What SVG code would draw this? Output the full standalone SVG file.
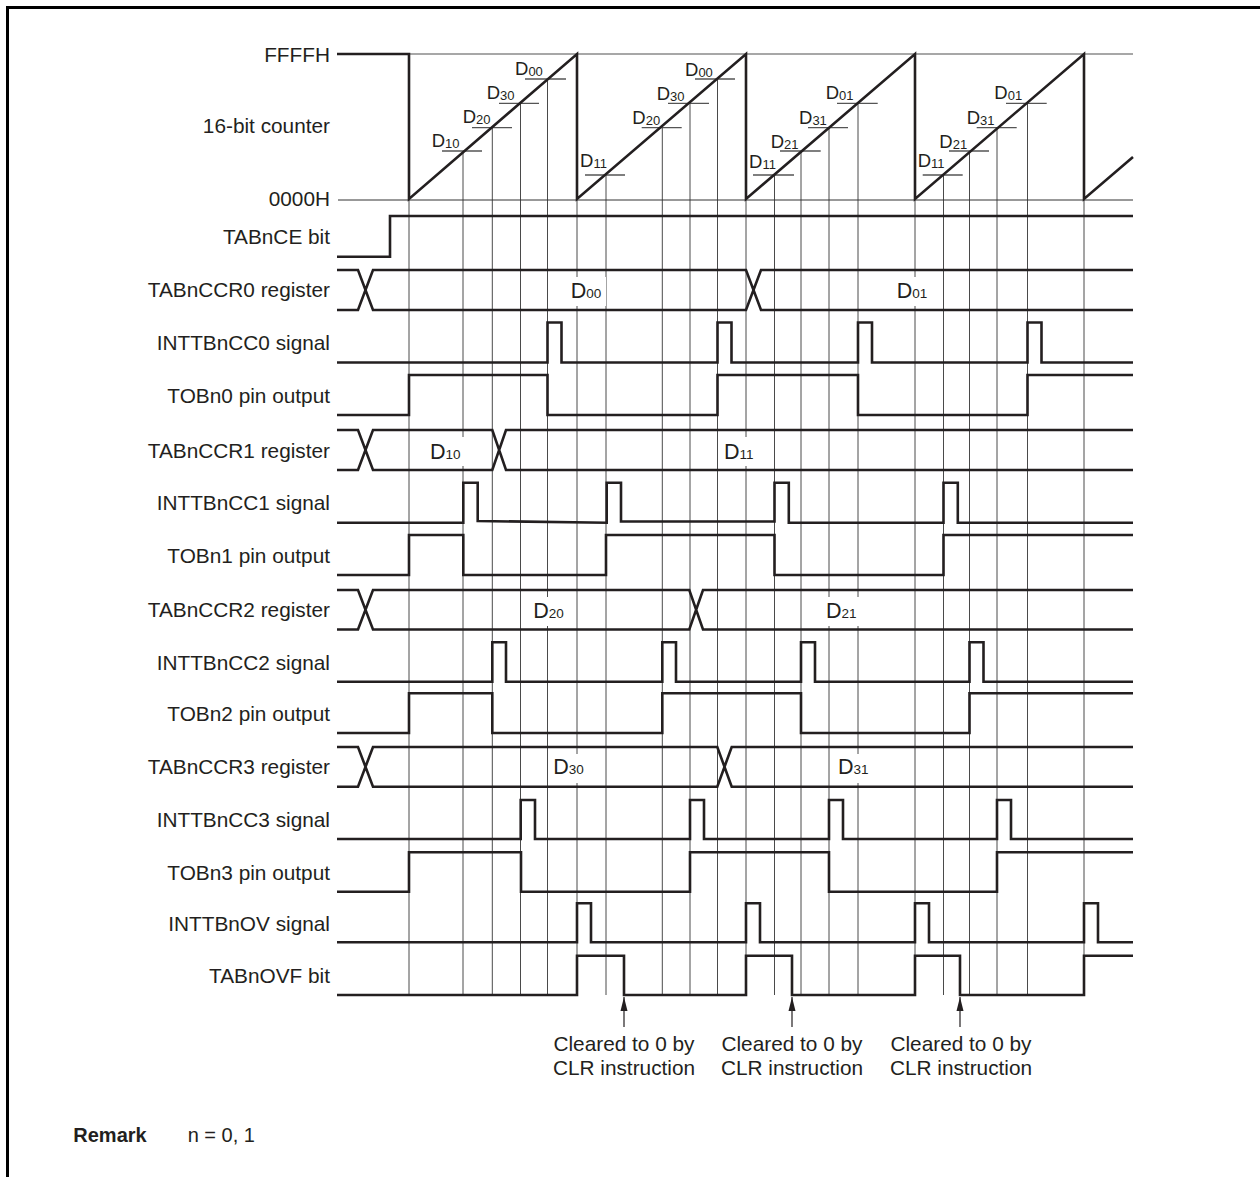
<svg xmlns="http://www.w3.org/2000/svg" width="1260" height="1177" viewBox="0 0 1260 1177">
<style>
text{font-family:"Liberation Sans",Arial,Helvetica,sans-serif;fill:#231f20}
.lbl{font-size:20.8px;text-anchor:end}
.cl{font-size:20.8px;text-anchor:middle}
.dc{font-size:18.5px}
.dcs{font-size:13px}
.dr{font-size:21.5px}
.drs{font-size:13.5px}
.sig{fill:none;stroke:#231f20;stroke-width:2.6;stroke-linejoin:miter}
.vl{stroke:#4a4a4a;stroke-width:1;fill:none}
.tk{stroke:#555;stroke-width:1.3;fill:none}
.bg{fill:#fff}
</style>
<defs>
<marker id="ah" viewBox="0 0 14 8" refX="14" refY="4" markerWidth="14" markerHeight="8" markerUnits="userSpaceOnUse" orient="auto">
<path d="M14,4 L0,0.5 L0,7.5 Z" fill="#231f20"/>
</marker>
</defs>

<g id="frame" fill="none" stroke="#000" stroke-width="3">
<path d="M7.5,1177 V7.5 H1260"/>
</g>

<g id="labels">
<text class="lbl" x="330" y="61.5">FFFFH</text>
<text class="lbl" x="330" y="133.3">16-bit counter</text>
<text class="lbl" x="330" y="206">0000H</text>
<text class="lbl" x="330" y="243.5">TABnCE bit</text>
<text class="lbl" x="330" y="297">TABnCCR0 register</text>
<text class="lbl" x="330" y="350">INTTBnCC0 signal</text>
<text class="lbl" x="330" y="402.5">TOBn0 pin output</text>
<text class="lbl" x="330" y="457.5">TABnCCR1 register</text>
<text class="lbl" x="330" y="510">INTTBnCC1 signal</text>
<text class="lbl" x="330" y="562.5">TOBn1 pin output</text>
<text class="lbl" x="330" y="617">TABnCCR2 register</text>
<text class="lbl" x="330" y="669.5">INTTBnCC2 signal</text>
<text class="lbl" x="330" y="720.5">TOBn2 pin output</text>
<text class="lbl" x="330" y="774">TABnCCR3 register</text>
<text class="lbl" x="330" y="827">INTTBnCC3 signal</text>
<text class="lbl" x="330" y="879.5">TOBn3 pin output</text>
<text class="lbl" x="330" y="930.5">INTTBnOV signal</text>
<text class="lbl" x="330" y="983">TABnOVF bit</text>
</g>

<g id="gridlines">
<path class="vl" d="M409,200V995 M577,200V995 M746,200V995 M915,200V995 M1084,200V995"/>
<path class="vl" d="M463,151V995 M492.3,127.7V995 M520.5,103.3V995 M547.5,79V995"/>
<path class="vl" d="M606,175V995 M662.3,127.7V995 M690,103.3V995 M717.5,79V995"/>
<path class="vl" d="M774.5,175V995 M801,151V995 M829,127.7V995 M858,103.3V995"/>
<path class="vl" d="M943.5,175V995 M969.5,151V995 M997,127.7V995 M1027.5,103.3V995"/>
<path d="M409,54H1133" stroke="#8a8a8a" stroke-width="1.4"/>
<path d="M338,200H1133" stroke="#333" stroke-width="1"/>
</g>

<g id="counter">
<g class="tk">
<path d="M442,151H482 M472,127.7H512 M499,103.3H539 M525,79H566"/>
<path d="M585,175H625 M641.7,127.7H681.7 M668,103.3H709 M695,79H735"/>
<path d="M753,175H794 M780,151H820.7 M808,127.7H848 M837,103.3H877.7"/>
<path d="M922.7,175H962.7 M949,151H989 M976.7,127.7H1016.7 M1006,103.3H1046.7"/>
</g>
<path class="sig" d="M337,54H409V199L577,54V199L746,54V199L915,54V199L1084,54V199L1133,157"/>
<text class="dc" x="431.7" y="146.7">D<tspan class="dcs" dy="1">10</tspan></text>
<text class="dc" x="462.7" y="123.3">D<tspan class="dcs" dy="1">20</tspan></text>
<text class="dc" x="486.7" y="99">D<tspan class="dcs" dy="1">30</tspan></text>
<text class="dc" x="515" y="75">D<tspan class="dcs" dy="1">00</tspan></text>
<text class="dc" x="580" y="167">D<tspan class="dcs" dy="1">11</tspan></text>
<text class="dc" x="632.3" y="124.3">D<tspan class="dcs" dy="1">20</tspan></text>
<text class="dc" x="656.7" y="100">D<tspan class="dcs" dy="1">30</tspan></text>
<text class="dc" x="685" y="76">D<tspan class="dcs" dy="1">00</tspan></text>
<text class="dc" x="749" y="167.7">D<tspan class="dcs" dy="1">11</tspan></text>
<text class="dc" x="770.7" y="148.3">D<tspan class="dcs" dy="1">21</tspan></text>
<text class="dc" x="799" y="124">D<tspan class="dcs" dy="1">31</tspan></text>
<text class="dc" x="825.7" y="99.3">D<tspan class="dcs" dy="1">01</tspan></text>
<text class="dc" x="917.7" y="167.3">D<tspan class="dcs" dy="1">11</tspan></text>
<text class="dc" x="939.3" y="148.3">D<tspan class="dcs" dy="1">21</tspan></text>
<text class="dc" x="966.7" y="124">D<tspan class="dcs" dy="1">31</tspan></text>
<text class="dc" x="994.3" y="99.3">D<tspan class="dcs" dy="1">01</tspan></text>
</g>

<g id="tabnce">
<path class="sig" d="M337,256.7H390V216H1133"/>
</g>

<g id="tabnccr0">
<rect class="bg" x="568" y="277" width="38" height="29"/>
<rect class="bg" x="894" y="277" width="38" height="29"/>
<path class="sig" d="M337,270H358L373,310H746L761,270H1133 M337,310H358L373,270H746L761,310H1133"/>
<text class="dr" x="570.7" y="298">D<tspan class="drs">00</tspan></text>
<text class="dr" x="896.7" y="298">D<tspan class="drs">01</tspan></text>
</g>
<g id="inttbncc0">
<path class="sig" d="M337,362.5H547.5V322.5H561.5V362.5H717.5V322.5H731.5V362.5H858V322.5H872V362.5H1027.5V322.5H1041.5V362.5H1133"/>
</g>
<g id="tobn0">
<path class="sig" d="M337,415H409V375H547.5V415H717.5V375H858V415H1027.5V375H1133"/>
</g>

<g id="tabnccr1">
<rect class="bg" x="427" y="437" width="38" height="29"/>
<rect class="bg" x="721" y="437" width="38" height="29"/>
<path class="sig" d="M337,430H358L373,470H492.3L506,430H1133 M337,470H358L373,430H492.3L506,470H1133"/>
<text class="dr" x="430" y="459.3">D<tspan class="drs">10</tspan></text>
<text class="dr" x="724" y="459.3">D<tspan class="drs">11</tspan></text>
</g>
<g id="inttbncc1">
<path class="sig" d="M337,522.7H463.3V482.7H477.7V521L606.7,522.7V482.7H621V521.5H774.5V482.7H788.8V522.7H943.5V482.7H957.8V522.7H1133"/>
</g>
<g id="tobn1">
<path class="sig" d="M337,575H409V535H463.3V575H606V535H774.5V575H943.5V535H1133"/>
</g>

<g id="tabnccr2">
<rect class="bg" x="530.5" y="597" width="38" height="29"/>
<rect class="bg" x="823" y="597" width="38" height="29"/>
<path class="sig" d="M337,590H358L373,629.5H689.3L703,590H1133 M337,629.5H358L373,590H689.3L703,629.5H1133"/>
<text class="dr" x="533.3" y="617.7">D<tspan class="drs">20</tspan></text>
<text class="dr" x="826" y="617.7">D<tspan class="drs">21</tspan></text>
</g>
<g id="inttbncc2">
<path class="sig" d="M337,681.7H492.3V642.3H506V681.7H662.3V642.3H676V681.7H801V642.3H815V681.7H969.5V642.3H983.5V681.7H1133"/>
</g>
<g id="tobn2">
<path class="sig" d="M337,733H409V693.3H492.3V733H662.3V693.3H801V733H969.5V693.3H1133"/>
</g>

<g id="tabnccr3">
<rect class="bg" x="550.5" y="754" width="38" height="29"/>
<rect class="bg" x="835" y="754" width="38" height="29"/>
<path class="sig" d="M337,747H358L373,786.7H717.3L731.7,747H1133 M337,786.7H358L373,747H717.3L731.7,786.7H1133"/>
<text class="dr" x="553.3" y="774.3">D<tspan class="drs">30</tspan></text>
<text class="dr" x="838" y="774.3">D<tspan class="drs">31</tspan></text>
</g>
<g id="inttbncc3">
<path class="sig" d="M337,839H520.7V800H535V839H690V800H704V839H829V800H843V839H997V800H1011V839H1133"/>
</g>
<g id="tobn3">
<path class="sig" d="M337,891.7H409V852.3H521V891.7H690V852.3H829V891.7H997V852.3H1133"/>
</g>

<g id="inttbnov">
<path class="sig" d="M337,942.3H577V903.3H591V942.3H746V903.3H760V942.3H915V903.3H929V942.3H1084V903.3H1098V942.3H1133"/>
</g>
<g id="tabnovf">
<path class="sig" d="M337,995H577V955.7H624V995H746V955.7H792V995H915V955.7H960V995H1084V955.7H1133"/>
</g>

<g id="connectors" stroke="#231f20" stroke-width="1.2" fill="none">
<path d="M624,1027V997" marker-end="url(#ah)"/>
<path d="M792,1027V997" marker-end="url(#ah)"/>
<path d="M960,1027V997" marker-end="url(#ah)"/>
</g>

<g id="notes">
<text class="cl" x="624" y="1051">Cleared to 0 by</text>
<text class="cl" x="624" y="1075">CLR instruction</text>
<text class="cl" x="792" y="1051">Cleared to 0 by</text>
<text class="cl" x="792" y="1075">CLR instruction</text>
<text class="cl" x="961" y="1051">Cleared to 0 by</text>
<text class="cl" x="961" y="1075">CLR instruction</text>
<text x="73.3" y="1141.7" font-size="20" font-weight="bold">Remark</text>
<text x="187.7" y="1141.7" font-size="20">n = 0, 1</text>
</g>
</svg>
